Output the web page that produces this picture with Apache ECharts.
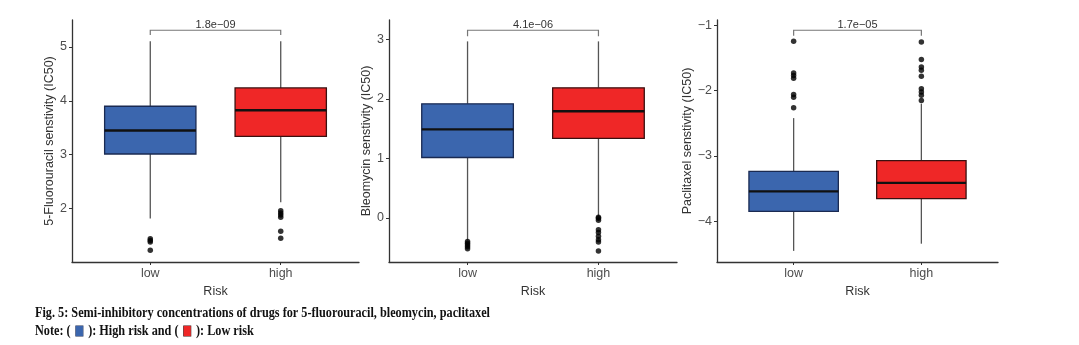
<!DOCTYPE html>
<html>
<head>
<meta charset="utf-8">
<script src="https://cdn.jsdelivr.net/npm/echarts@6/dist/echarts.min.js"></script>
<style>
html,body{margin:0;padding:0;background:#fff;}
#chart{width:1079px;height:345px;}
</style>
</head>
<body>
<div id="chart"></div>
<script>
// ---------------- data ----------------
const categories = ['low', 'high'];
const yTitles = ['5-Fluorouracil senstivity (IC50)', 'Bleomycin senstivity (IC50)', 'Paclitaxel senstivity (IC50)'];
const pLabels = ['1.8e\u221209', '4.1e\u221206', '1.7e\u221205'];

// [min whisker, Q1, median, Q3, max whisker] for low, high
const fluStats  = [[1.815, 3.014, 3.45, 3.90, 5.106], [2.12, 3.34, 3.825, 4.24, 5.106]];
const bleoStats = [[-0.38, 1.015, 1.488, 1.918, 2.97], [0.03, 1.336, 1.793, 2.188, 2.97]];
const pacStats  = [[-4.45, -3.847, -3.54, -3.233, -2.42], [-4.34, -3.65, -3.41, -3.07, -2.2]];

const fluOutliers  = [[1.44, 1.41, 1.38, 1.23], [1.96, 1.92, 1.88, 1.84, 1.58, 1.45]];
const bleoOutliers = [[-0.40, -0.43, -0.46, -0.49, -0.52], [0.01, -0.01, -0.04, -0.2, -0.25, -0.31, -0.37, -0.41, -0.56]];
const pacOutliers  = [[-1.245, -1.73, -1.77, -1.81, -2.06, -2.10, -2.26],
                      [-1.256, -1.525, -1.64, -1.69, -1.78, -1.97, -2.02, -2.07, -2.15]];

// bracket [top, drop]
const fluBracket  = [5.31, 5.22];
const bleoBracket = [3.157, 3.057];
const pacBracket  = [-1.077, -1.16];

const fluRange  = [1.01, 5.5];
const bleoRange = [-0.745, 3.33];
const pacRange  = [-4.62, -0.92];

const fluTicks  = [2, 3, 4, 5];
const bleoTicks = [0, 1, 2, 3];
const pacTicks  = [-4, -3, -2, -1];

const captionLine1 = 'Fig. 5: Semi-inhibitory concentrations of drugs for 5-fluorouracil, bleomycin, paclitaxel';
const captionLine2 = 'Note: ({s|}{b|}{s|}): High risk and ({s|}{r|}{s|}): Low risk';

// ---------------- layout ----------------
const panels = [
  {stats: fluStats, out: fluOutliers, br: fluBracket, range: fluRange, ticks: fluTicks, grid: {left: 72, width: 287}, nameGap: 15},
  {stats: bleoStats, out: bleoOutliers, br: bleoBracket, range: bleoRange, ticks: bleoTicks, grid: {left: 389, width: 288}, nameGap: 16},
  {stats: pacStats, out: pacOutliers, br: pacBracket, range: pacRange, ticks: pacTicks, grid: {left: 717, width: 281}, nameGap: 21}
];
const fills = ['#3B66AE', '#EF2727'];
const strokes = ['#1a2a52', '#3a1010'];
const FONT = '"Liberation Sans", Arial, sans-serif';
const fmtNum = v => String(v).replace('-', '\u2212');

const grids = [], xAxes = [], yAxes = [], series = [];
panels.forEach((p, i) => {
  grids.push({left: p.grid.left, width: p.grid.width, top: 20, height: 242, containLabel: false});
  xAxes.push({
    type: 'value', gridIndex: i, min: 0.4, max: 2.6,
    name: 'Risk', nameLocation: 'middle', nameGap: 18,
    nameTextStyle: {fontFamily: FONT, fontSize: 12.5, color: '#333'},
    axisLine: {show: true, onZero: false, lineStyle: {color: '#333', width: 1.3}},
    axisTick: {show: true, length: 3, lineStyle: {color: '#333'}, customValues: [1, 2]},
    axisLabel: {customValues: [1, 2], formatter: v => categories[Math.round(v) - 1], fontFamily: FONT, fontSize: 12.5, color: '#4d4d4d', margin: 5},
    splitLine: {show: false}
  });
  yAxes.push({
    type: 'value', gridIndex: i, min: p.range[0], max: p.range[1],
    name: yTitles[i], nameLocation: 'middle', nameGap: p.nameGap, nameRotate: 90,
    nameTextStyle: {fontFamily: FONT, fontSize: 12.5, color: '#333'},
    axisLine: {show: true, onZero: false, lineStyle: {color: '#333', width: 1.3}},
    axisTick: {show: true, length: 3, lineStyle: {color: '#333'}, customValues: p.ticks},
    axisLabel: {customValues: p.ticks, formatter: fmtNum, fontFamily: FONT, fontSize: 12.5, color: '#4d4d4d', margin: 5},
    splitLine: {show: false}
  });
  // boxes
  series.push({
    type: 'custom', xAxisIndex: i, yAxisIndex: i, clip: false,
    encode: {x: 0, y: [1, 2, 3, 4, 5]},
    data: p.stats.map((s, k) => [k + 1].concat(s)),
    renderItem: function (params, api) {
      const x = api.value(0);
      const k = params.dataIndex;
      const yMin = api.coord([x, api.value(1)])[1];
      const yQ1 = api.coord([x, api.value(2)])[1];
      const yMed = api.coord([x, api.value(3)])[1];
      const yQ3 = api.coord([x, api.value(4)])[1];
      const yMax = api.coord([x, api.value(5)])[1];
      const cx = api.coord([x, api.value(3)])[0];
      const half = api.size([0.7, 0])[0] / 2;
      return {type: 'group', children: [
        {type: 'line', shape: {x1: cx, y1: yQ3, x2: cx, y2: yMax}, style: {stroke: '#555', lineWidth: 1.3}},
        {type: 'line', shape: {x1: cx, y1: yQ1, x2: cx, y2: yMin}, style: {stroke: '#555', lineWidth: 1.3}},
        {type: 'rect', shape: {x: cx - half, y: yQ3, width: 2 * half, height: yQ1 - yQ3}, style: {fill: fills[k], stroke: strokes[k], lineWidth: 1.3}},
        {type: 'line', shape: {x1: cx - half, y1: yMed, x2: cx + half, y2: yMed}, style: {stroke: '#111', lineWidth: 2.4}}
      ]};
    }
  });
  // outliers
  const pts = [];
  p.out.forEach((arr, k) => arr.forEach(v => pts.push([k + 1, v])));
  series.push({
    type: 'scatter', xAxisIndex: i, yAxisIndex: i, data: pts,
    symbolSize: 5.5, itemStyle: {color: '#000'}, z: 5
  });
  // bracket + p-value
  series.push({
    type: 'custom', xAxisIndex: i, yAxisIndex: i, clip: false,
    encode: {x: [0, 1], y: [2, 3]},
    data: [[1, 2, p.br[0], p.br[1]]],
    renderItem: function (params, api) {
      const a = api.coord([api.value(0), api.value(2)]);
      const b = api.coord([api.value(1), api.value(2)]);
      const dy = api.coord([api.value(0), api.value(3)])[1];
      return {type: 'group', children: [
        {type: 'polyline', shape: {points: [[a[0], dy], a, b, [b[0], dy]]}, style: {stroke: '#777', lineWidth: 1.2, fill: null}},
        {type: 'text', x: (a[0] + b[0]) / 2, y: a[1] - 5.5, style: {text: pLabels[i], textAlign: 'center', textVerticalAlign: 'middle', fill: '#333', font: '11px ' + FONT}}
      ]};
    }
  });
});

// caption scaling to match condensed figure font
const capFont = 'bold 14px "Liberation Serif", "Times New Roman", serif';
const cv = document.createElement('canvas').getContext('2d');
cv.font = capFont;
const capW = cv.measureText(captionLine1).width;
const capScale = 455 / capW;

const chart = echarts.init(document.getElementById('chart'), null, {renderer: 'canvas'});
chart.setOption({
  animation: false,
  backgroundColor: '#fff',
  grid: grids, xAxis: xAxes, yAxis: yAxes, series: series,
  graphic: [
    {type: 'text', x: 35, y: 313, scaleX: capScale, style: {text: captionLine1, font: capFont, fill: '#111', textVerticalAlign: 'middle'}},
    {type: 'text', x: 35, y: 331, scaleX: capScale, style: {text: captionLine2, font: capFont, fill: '#111', textVerticalAlign: 'middle',
      rich: {
        s: {width: 6, height: 10},
        b: {width: 8, height: 10, backgroundColor: '#3B66AE', borderColor: '#1a2a52', borderWidth: 0.6},
        r: {width: 8, height: 10, backgroundColor: '#EF2727', borderColor: '#3a1010', borderWidth: 0.6}
      }}}
  ]
});
</script>
</body>
</html>
